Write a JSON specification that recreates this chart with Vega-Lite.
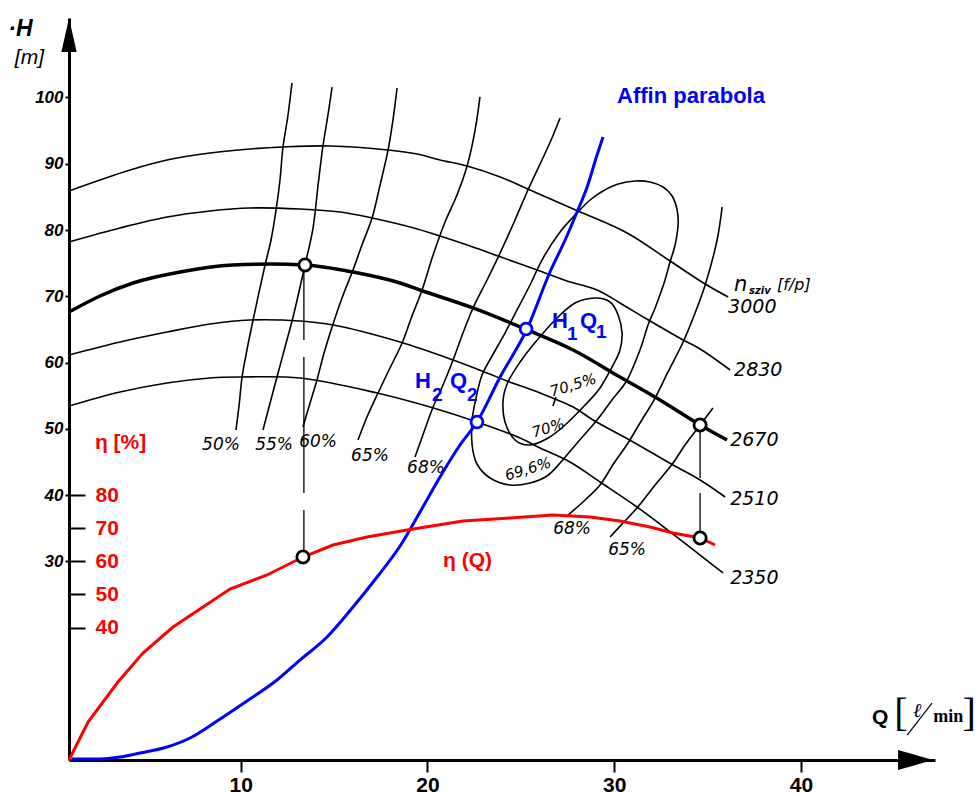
{
"$schema": "https://vega.github.io/schema/vega-lite/v6.json",
"width": 866, "height": 742,
"autosize": {"type": "none"},
"padding": {"left": 69, "top": 18, "right": 42, "bottom": 34},
"background": "white",
"config": {
 "view": {"stroke": null},
 "axis": {"grid": false, "labelFlush": false, "labelOverlap": false, "domainColor": "black", "tickColor": "black", "labelColor": "black"},
 "axisBottom": {"domainWidth": 3, "tickSize": 12, "tickWidth": 2, "labelFont": "Liberation Sans", "labelFontWeight": "bold", "labelFontSize": 21, "labelPadding": 2},
 "axisLeft": {"domainWidth": 3, "tickSize": 4, "tickWidth": 2, "labelFont": "Liberation Sans", "labelFontStyle": "italic", "labelFontWeight": "bold", "labelFontSize": 17, "labelPadding": 2}
},
"datasets": {
 "thin": [
  {"g":"i50","i":0,"Q":12.74,"H":102.19},{"g":"i50","i":1,"Q":12.53,"H":97.36},{"g":"i50","i":2,"Q":12.26,"H":92.53},{"g":"i50","i":3,"Q":12.10,"H":87.55},{"g":"i50","i":4,"Q":11.89,"H":83.02},{"g":"i50","i":5,"Q":11.62,"H":78.49},{"g":"i50","i":6,"Q":11.30,"H":74.72},{"g":"i50","i":7,"Q":10.98,"H":70.64},{"g":"i50","i":8,"Q":10.66,"H":66.42},{"g":"i50","i":9,"Q":10.33,"H":61.89},{"g":"i50","i":10,"Q":10.07,"H":57.81},{"g":"i50","i":11,"Q":9.91,"H":53.58},{"g":"i50","i":12,"Q":9.74,"H":49.81},
  {"g":"i55","i":0,"Q":14.89,"H":101.58},{"g":"i55","i":1,"Q":14.67,"H":97.36},{"g":"i55","i":2,"Q":14.40,"H":92.68},{"g":"i55","i":3,"Q":14.14,"H":86.79},{"g":"i55","i":4,"Q":13.87,"H":80.30},{"g":"i55","i":5,"Q":13.44,"H":74.72},{"g":"i55","i":6,"Q":12.80,"H":66.87},{"g":"i55","i":7,"Q":12.37,"H":62.34},{"g":"i55","i":8,"Q":11.94,"H":57.81},{"g":"i55","i":9,"Q":11.57,"H":53.89},{"g":"i55","i":10,"Q":11.19,"H":49.81},
  {"g":"i60","i":0,"Q":18.37,"H":101.43},{"g":"i60","i":1,"Q":18.15,"H":96.60},{"g":"i60","i":2,"Q":17.89,"H":92.08},{"g":"i60","i":3,"Q":17.46,"H":86.79},{"g":"i60","i":4,"Q":17.03,"H":81.81},{"g":"i60","i":5,"Q":16.49,"H":77.74},{"g":"i60","i":6,"Q":16.01,"H":73.96},{"g":"i60","i":7,"Q":15.42,"H":69.74},{"g":"i60","i":8,"Q":14.89,"H":65.36},{"g":"i60","i":9,"Q":14.46,"H":61.43},{"g":"i60","i":10,"Q":14.08,"H":57.36},{"g":"i60","i":11,"Q":13.71,"H":53.89},{"g":"i60","i":12,"Q":13.33,"H":50.26},
  {"g":"i65","i":0,"Q":22.81,"H":100.08},{"g":"i65","i":1,"Q":22.55,"H":95.09},{"g":"i65","i":2,"Q":22.12,"H":89.66},{"g":"i65","i":3,"Q":21.58,"H":85.28},{"g":"i65","i":4,"Q":20.94,"H":81.21},{"g":"i65","i":5,"Q":20.30,"H":76.23},{"g":"i65","i":6,"Q":19.71,"H":70.94},{"g":"i65","i":7,"Q":19.17,"H":67.02},{"g":"i65","i":8,"Q":18.64,"H":62.94},{"g":"i65","i":9,"Q":17.99,"H":59.17},{"g":"i65","i":10,"Q":17.35,"H":55.40},{"g":"i65","i":11,"Q":16.76,"H":51.77},{"g":"i65","i":12,"Q":16.28,"H":48.30},
  {"g":"i68","i":0,"Q":27.10,"H":96.91},{"g":"i68","i":1,"Q":26.62,"H":93.58},{"g":"i68","i":2,"Q":26.13,"H":90.57},{"g":"i68","i":3,"Q":25.38,"H":86.04},{"g":"i68","i":4,"Q":24.64,"H":81.21},{"g":"i68","i":5,"Q":23.89,"H":76.53},{"g":"i68","i":6,"Q":23.19,"H":72.45},{"g":"i68","i":7,"Q":22.44,"H":68.23},{"g":"i68","i":8,"Q":21.90,"H":64.45},{"g":"i68","i":9,"Q":21.37,"H":60.38},{"g":"i68","i":10,"Q":20.83,"H":56.60},{"g":"i68","i":11,"Q":20.30,"H":53.28},{"g":"i68","i":12,"Q":19.81,"H":49.51},{"g":"i68","i":13,"Q":19.33,"H":45.74},
  {"g":"i68r","i":0,"Q":35.78,"H":83.47},{"g":"i68r","i":1,"Q":35.51,"H":78.49},{"g":"i68r","i":2,"Q":34.87,"H":71.70},{"g":"i68r","i":3,"Q":34.33,"H":67.47},{"g":"i68r","i":4,"Q":33.69,"H":63.09},{"g":"i68r","i":5,"Q":32.88,"H":58.57},{"g":"i68r","i":6,"Q":32.19,"H":54.64},{"g":"i68r","i":7,"Q":31.38,"H":50.87},{"g":"i68r","i":8,"Q":30.74,"H":47.85},{"g":"i68r","i":9,"Q":29.99,"H":44.83},{"g":"i68r","i":10,"Q":29.24,"H":41.51},{"g":"i68r","i":11,"Q":28.44,"H":39.25},{"g":"i68r","i":12,"Q":27.53,"H":36.98},
  {"g":"i65r","i":0,"Q":35.29,"H":53.13},{"g":"i65r","i":1,"Q":34.60,"H":50.57},{"g":"i65r","i":2,"Q":33.79,"H":47.55},{"g":"i65r","i":3,"Q":33.15,"H":44.83},{"g":"i65r","i":4,"Q":32.19,"H":41.51},{"g":"i65r","i":5,"Q":31.22,"H":38.04},{"g":"i65r","i":6,"Q":30.47,"H":35.77},{"g":"i65r","i":7,"Q":29.78,"H":33.66},
  {"g":"s3000","i":0,"Q":0.80,"H":85.89},{"g":"s3000","i":1,"Q":2.46,"H":87.55},{"g":"s3000","i":2,"Q":4.07,"H":89.06},{"g":"s3000","i":3,"Q":6.05,"H":90.57},{"g":"s3000","i":4,"Q":8.35,"H":91.62},{"g":"s3000","i":5,"Q":10.49,"H":92.23},{"g":"s3000","i":6,"Q":12.26,"H":92.53},{"g":"s3000","i":7,"Q":14.78,"H":92.68},{"g":"s3000","i":8,"Q":17.89,"H":92.08},{"g":"s3000","i":9,"Q":19.44,"H":91.47},{"g":"s3000","i":10,"Q":20.67,"H":90.57},{"g":"s3000","i":11,"Q":22.12,"H":89.66},{"g":"s3000","i":12,"Q":23.89,"H":88.00},{"g":"s3000","i":13,"Q":25.49,"H":86.04},{"g":"s3000","i":14,"Q":28.06,"H":82.87},{"g":"s3000","i":15,"Q":30.69,"H":79.55},{"g":"s3000","i":16,"Q":32.99,"H":75.32},{"g":"s3000","i":17,"Q":34.87,"H":71.85},{"g":"s3000","i":18,"Q":36.10,"H":69.89},
  {"g":"s2830","i":0,"Q":0.80,"H":78.19},{"g":"s2830","i":1,"Q":3.53,"H":80.30},{"g":"s2830","i":2,"Q":6.05,"H":81.96},{"g":"s2830","i":3,"Q":8.35,"H":82.87},{"g":"s2830","i":4,"Q":10.49,"H":83.32},{"g":"s2830","i":5,"Q":13.17,"H":83.17},{"g":"s2830","i":6,"Q":15.32,"H":82.72},{"g":"s2830","i":7,"Q":17.03,"H":81.81},{"g":"s2830","i":8,"Q":19.07,"H":80.45},{"g":"s2830","i":9,"Q":20.67,"H":79.09},{"g":"s2830","i":10,"Q":22.28,"H":77.58},{"g":"s2830","i":11,"Q":23.78,"H":76.08},{"g":"s2830","i":12,"Q":25.87,"H":73.96},{"g":"s2830","i":13,"Q":27.47,"H":72.30},{"g":"s2830","i":14,"Q":29.08,"H":70.94},{"g":"s2830","i":15,"Q":30.31,"H":68.98},{"g":"s2830","i":16,"Q":31.65,"H":66.72},{"g":"s2830","i":17,"Q":33.69,"H":63.40},{"g":"s2830","i":18,"Q":34.60,"H":62.04},{"g":"s2830","i":19,"Q":36.21,"H":58.87},
  {"g":"s2510","i":0,"Q":0.80,"H":61.13},{"g":"s2510","i":1,"Q":3.53,"H":63.09},{"g":"s2510","i":2,"Q":6.05,"H":64.60},{"g":"s2510","i":3,"Q":8.35,"H":65.81},{"g":"s2510","i":4,"Q":10.49,"H":66.42},{"g":"s2510","i":5,"Q":13.17,"H":66.26},{"g":"s2510","i":6,"Q":14.94,"H":65.66},{"g":"s2510","i":7,"Q":18.53,"H":63.09},{"g":"s2510","i":8,"Q":21.37,"H":60.38},{"g":"s2510","i":9,"Q":23.19,"H":58.42},{"g":"s2510","i":10,"Q":24.26,"H":57.21},{"g":"s2510","i":11,"Q":26.03,"H":55.40},{"g":"s2510","i":12,"Q":27.80,"H":53.28},{"g":"s2510","i":13,"Q":28.87,"H":51.32},{"g":"s2510","i":14,"Q":31.01,"H":48.00},{"g":"s2510","i":15,"Q":33.15,"H":44.53},{"g":"s2510","i":16,"Q":34.60,"H":42.26},{"g":"s2510","i":17,"Q":35.94,"H":39.70},
  {"g":"s2350","i":0,"Q":0.80,"H":53.43},{"g":"s2350","i":1,"Q":3.53,"H":55.55},{"g":"s2350","i":2,"Q":6.05,"H":56.91},{"g":"s2350","i":3,"Q":8.35,"H":57.66},{"g":"s2350","i":4,"Q":9.96,"H":57.81},{"g":"s2350","i":5,"Q":13.17,"H":57.66},{"g":"s2350","i":6,"Q":17.30,"H":55.40},{"g":"s2350","i":7,"Q":20.14,"H":53.28},{"g":"s2350","i":8,"Q":22.65,"H":51.02},{"g":"s2350","i":9,"Q":24.96,"H":48.60},{"g":"s2350","i":10,"Q":26.03,"H":47.09},{"g":"s2350","i":11,"Q":27.63,"H":44.98},{"g":"s2350","i":12,"Q":29.24,"H":41.96},{"g":"s2350","i":13,"Q":31.22,"H":38.19},{"g":"s2350","i":14,"Q":33.15,"H":34.11},{"g":"s2350","i":15,"Q":35.83,"H":28.23},
  {"g":"t705","i":0,"Q":26.72,"H":53.43},{"g":"t705","i":1,"Q":26.88,"H":54.79}
 ],
 "loops": [
  {"g":"o","i":0,"Q":28.06,"H":82.72},{"g":"o","i":1,"Q":28.71,"H":84.53},{"g":"o","i":2,"Q":29.40,"H":85.89},{"g":"o","i":3,"Q":30.21,"H":86.94},{"g":"o","i":4,"Q":31.12,"H":87.40},{"g":"o","i":5,"Q":31.92,"H":87.25},{"g":"o","i":6,"Q":32.62,"H":86.49},{"g":"o","i":7,"Q":33.10,"H":85.13},{"g":"o","i":8,"Q":33.37,"H":83.02},{"g":"o","i":9,"Q":33.42,"H":80.75},{"g":"o","i":10,"Q":33.26,"H":77.74},{"g":"o","i":11,"Q":32.99,"H":75.17},{"g":"o","i":12,"Q":32.67,"H":72.00},{"g":"o","i":13,"Q":32.19,"H":68.23},{"g":"o","i":14,"Q":31.81,"H":65.66},{"g":"o","i":15,"Q":31.38,"H":61.89},{"g":"o","i":16,"Q":30.69,"H":57.36},{"g":"o","i":17,"Q":29.88,"H":54.34},{"g":"o","i":18,"Q":29.08,"H":51.32},{"g":"o","i":19,"Q":28.06,"H":48.00},{"g":"o","i":20,"Q":27.10,"H":44.83},{"g":"o","i":21,"Q":26.40,"H":42.87},{"g":"o","i":22,"Q":25.49,"H":41.81},{"g":"o","i":23,"Q":24.42,"H":41.51},{"g":"o","i":24,"Q":23.35,"H":42.57},{"g":"o","i":25,"Q":22.65,"H":44.68},{"g":"o","i":26,"Q":22.39,"H":47.55},{"g":"o","i":27,"Q":22.39,"H":51.32},{"g":"o","i":28,"Q":22.60,"H":54.64},{"g":"o","i":29,"Q":22.92,"H":58.11},{"g":"o","i":30,"Q":23.46,"H":60.98},{"g":"o","i":31,"Q":24.15,"H":64.45},{"g":"o","i":32,"Q":24.85,"H":68.23},{"g":"o","i":33,"Q":25.49,"H":71.70},{"g":"o","i":34,"Q":26.19,"H":75.77},{"g":"o","i":35,"Q":27.10,"H":79.70},
  {"g":"n","i":0,"Q":25.65,"H":62.64},{"g":"n","i":1,"Q":26.83,"H":66.42},{"g":"n","i":2,"Q":27.90,"H":68.98},{"g":"n","i":3,"Q":28.97,"H":69.74},{"g":"n","i":4,"Q":29.78,"H":69.13},{"g":"n","i":5,"Q":30.21,"H":67.17},{"g":"n","i":6,"Q":30.42,"H":64.45},{"g":"n","i":7,"Q":30.31,"H":61.89},{"g":"n","i":8,"Q":29.94,"H":59.62},{"g":"n","i":9,"Q":29.24,"H":56.15},{"g":"n","i":10,"Q":28.44,"H":53.58},{"g":"n","i":11,"Q":27.37,"H":50.57},{"g":"n","i":12,"Q":26.46,"H":48.60},{"g":"n","i":13,"Q":25.49,"H":47.55},{"g":"n","i":14,"Q":24.69,"H":48.30},{"g":"n","i":15,"Q":24.15,"H":51.02},{"g":"n","i":16,"Q":24.05,"H":54.34},{"g":"n","i":17,"Q":24.31,"H":57.06},{"g":"n","i":18,"Q":24.96,"H":60.08}
 ],
 "thick": [
  {"Q":0.80,"H":67.62},{"Q":2.46,"H":70.04},{"Q":4.23,"H":72.00},{"Q":6.75,"H":73.66},{"Q":9.58,"H":74.72},{"Q":11.57,"H":74.87},{"Q":13.44,"H":74.72},{"Q":16.01,"H":73.66},{"Q":18.53,"H":72.00},{"Q":19.60,"H":70.94},{"Q":22.44,"H":68.23},{"Q":25.22,"H":65.06},{"Q":27.80,"H":61.89},{"Q":30.31,"H":57.81},{"Q":32.45,"H":54.34},{"Q":34.60,"H":50.57},{"Q":36.04,"H":48.30}
 ],
 "blue": [
  {"Q":0.96,"H":0.15},{"Q":2.46,"H":0.15},{"Q":3.53,"H":0.45},{"Q":4.60,"H":1.06},{"Q":6.05,"H":1.96},{"Q":7.28,"H":3.32},{"Q":8.73,"H":5.89},{"Q":10.33,"H":8.91},{"Q":11.94,"H":12.08},{"Q":13.17,"H":15.09},{"Q":14.62,"H":18.57},{"Q":16.01,"H":23.09},{"Q":17.30,"H":27.62},{"Q":18.53,"H":32.30},{"Q":19.60,"H":37.43},{"Q":20.67,"H":42.72},{"Q":21.74,"H":47.55},{"Q":22.65,"H":51.02},{"Q":23.89,"H":57.81},{"Q":25.33,"H":65.06},{"Q":26.56,"H":73.66},{"Q":27.37,"H":78.49},{"Q":28.01,"H":82.72},{"Q":28.55,"H":86.49},{"Q":29.08,"H":91.32},{"Q":29.40,"H":94.04}
 ],
 "red": [
  {"Q":0.80,"eta":0},{"Q":1.82,"eta":11.47},{"Q":3.42,"eta":23.55},{"Q":4.76,"eta":32.30},{"Q":6.37,"eta":40.15},{"Q":9.42,"eta":51.62},{"Q":11.41,"eta":55.85},{"Q":13.33,"eta":61.28},{"Q":14.94,"eta":64.91},{"Q":16.76,"eta":67.32},{"Q":18.90,"eta":69.43},{"Q":21.90,"eta":72.15},{"Q":24.42,"eta":73.06},{"Q":26.72,"eta":73.96},{"Q":28.71,"eta":73.36},{"Q":30.31,"eta":72.15},{"Q":31.92,"eta":70.34},{"Q":33.15,"eta":68.53},{"Q":34.60,"eta":67.02},{"Q":35.40,"eta":64.91}
 ],
 "dashL": [{"i":0,"Q":13.38,"H":74.72},{"i":1,"Q":13.38,"H":30.64}],
 "dashR": [{"i":0,"Q":34.60,"H":50.57},{"i":1,"Q":34.60,"H":33.51}],
 "mkBlack": [{"Q":13.44,"H":74.72},{"Q":13.33,"H":30.64},{"Q":34.60,"H":50.57},{"Q":34.60,"H":33.51}],
 "mkBlue": [{"Q":22.65,"H":51.02},{"Q":25.28,"H":65.06}],
 "isoLbl": [{"t":"50%","Q":8.94,"H":47.55},{"t":"55%","Q":11.78,"H":47.55},{"t":"60%","Q":14.14,"H":48.0},{"t":"65%","Q":16.92,"H":45.89},{"t":"68%","Q":19.92,"H":44.08},{"t":"68%","Q":27.74,"H":34.87},{"t":"65%","Q":30.69,"H":31.70}],
 "contLbl": [{"t":"70,5%","Q":27.80,"H":56.60},{"t":"70%","Q":26.46,"H":50.11},{"t":"69,6%","Q":25.38,"H":43.92}],
 "speedLbl": [{"t":"3000","Q":36.10,"H":68.38},{"t":"2830","Q":36.42,"H":58.87},{"t":"2670","Q":36.21,"H":48.30},{"t":"2510","Q":36.21,"H":39.40},{"t":"2350","Q":36.21,"H":27.47}],
 "nLbl": [{"t":"n","Q":36.42,"H":71.70}],
 "szivLbl": [{"t":"sziv","Q":37.22,"H":70.79}],
 "fpLbl": [{"t":"[f/p]","Q":38.72,"H":71.70}],
 "blueLbl": [{"t":"Affin parabola","Q":30.15,"H":100.23},{"t":"H","Q":26.67,"H":66.26},{"t":"Q","Q":28.17,"H":66.26},{"t":"H","Q":19.33,"H":57.21},{"t":"Q","Q":21.21,"H":57.21}],
 "blueSub": [{"t":"1","Q":27.47,"H":64.30},{"t":"1","Q":29.03,"H":64.60},{"t":"2","Q":20.24,"H":55.09},{"t":"2","Q":22.12,"H":55.09}],
 "redLbl": [{"t":"η [%]","Q":2.19,"H":47.85},{"t":"η (Q)","Q":20.83,"H":30.04}],
 "hTitle": [{"t":"·H","Q":-2.45,"H":110.34}],
 "mTitle": [{"t":"[m]","Q":-2.10,"H":105.9}],
 "qTitle": [{"t":"Q","Q":43.81,"H":6.34}],
 "brkL": [{"t":"[","Q":45.0,"H":6.9}],
 "brkR": [{"t":"]","Q":49.36,"H":6.9}],
 "ell": [{"t":"ℓ","Q":46.0,"H":7.40}],
 "minT": [{"t":"min","Q":47.08,"H":6.49}],
 "slash": [{"Q":45.69,"H":3.77,"Q2":47.02,"H2":8.60}],
 "arrowUp": [{"Q":0.8,"H":109.43}],
 "arrowRight": [{"Q":46.14,"H":0}]
},
"layer": [
 {"layer": [
  {"data": {"name": "thin"}, "mark": {"type": "line", "stroke": "black", "strokeWidth": 1.6, "interpolate": "catmull-rom"},
   "encoding": {"x": {"field":"Q","type":"quantitative","scale":{"domain":[0.8,47.18],"nice":false,"zero":false},"axis":{"values":[10,20,30,40],"title":null}},
    "y": {"field":"H","type":"quantitative","scale":{"domain":[0,112],"nice":false,"zero":false},"axis":{"values":[30,40,50,60,70,80,90,100],"title":null}},
    "detail": {"field": "g"}, "order": {"field": "i", "type": "quantitative"}}},
  {"data": {"name": "loops"}, "mark": {"type": "line", "stroke": "black", "strokeWidth": 1.6, "interpolate": "cardinal-closed"},
   "encoding": {"x": {"field":"Q","type":"quantitative","scale":{"domain":[0.8,47.18],"nice":false,"zero":false},"axis":{"values":[10,20,30,40],"title":null}},
    "y": {"field":"H","type":"quantitative","scale":{"domain":[0,112],"nice":false,"zero":false},"axis":{"values":[30,40,50,60,70,80,90,100],"title":null}},
    "detail": {"field": "g"}, "order": {"field": "i", "type": "quantitative"}}},
  {"data": {"name": "thick"}, "mark": {"type": "line", "stroke": "black", "strokeWidth": 3.5, "interpolate": "monotone"},
   "encoding": {"x": {"field":"Q","type":"quantitative","scale":{"domain":[0.8,47.18],"nice":false,"zero":false},"axis":{"values":[10,20,30,40],"title":null}},
    "y": {"field":"H","type":"quantitative","scale":{"domain":[0,112],"nice":false,"zero":false},"axis":{"values":[30,40,50,60,70,80,90,100],"title":null}}}},
  {"data": {"name": "blue"}, "mark": {"type": "line", "stroke": "#0000ff", "strokeWidth": 3, "interpolate": "monotone"},
   "encoding": {"x": {"field":"Q","type":"quantitative","scale":{"domain":[0.8,47.18],"nice":false,"zero":false},"axis":{"values":[10,20,30,40],"title":null}},
    "y": {"field":"H","type":"quantitative","scale":{"domain":[0,112],"nice":false,"zero":false},"axis":{"values":[30,40,50,60,70,80,90,100],"title":null}}}},
  {"data": {"name": "dashL"}, "mark": {"type": "line", "stroke": "black", "strokeWidth": 1.3, "strokeDash": [75, 17, 136, 17, 60]},
   "encoding": {"x": {"field":"Q","type":"quantitative","scale":{"domain":[0.8,47.18],"nice":false,"zero":false},"axis":{"values":[10,20,30,40],"title":null}},
    "y": {"field":"H","type":"quantitative","scale":{"domain":[0,112],"nice":false,"zero":false},"axis":{"values":[30,40,50,60,70,80,90,100],"title":null}},
    "order": {"field": "i", "type": "quantitative"}}},
  {"data": {"name": "dashR"}, "mark": {"type": "line", "stroke": "black", "strokeWidth": 1.3, "strokeDash": [53, 15, 70]},
   "encoding": {"x": {"field":"Q","type":"quantitative","scale":{"domain":[0.8,47.18],"nice":false,"zero":false},"axis":{"values":[10,20,30,40],"title":null}},
    "y": {"field":"H","type":"quantitative","scale":{"domain":[0,112],"nice":false,"zero":false},"axis":{"values":[30,40,50,60,70,80,90,100],"title":null}},
    "order": {"field": "i", "type": "quantitative"}}},
  {"data": {"name": "isoLbl"}, "mark": {"type": "text", "font": "DejaVu Sans", "fontStyle": "italic", "fontSize": 17, "color": "black", "align": "center", "baseline": "middle"},
   "encoding": {"x": {"field":"Q","type":"quantitative","scale":{"domain":[0.8,47.18],"nice":false,"zero":false},"axis":{"values":[10,20,30,40],"title":null}},
    "y": {"field":"H","type":"quantitative","scale":{"domain":[0,112],"nice":false,"zero":false},"axis":{"values":[30,40,50,60,70,80,90,100],"title":null}},
    "text": {"field": "t"}}},
  {"data": {"name": "contLbl"}, "mark": {"type": "text", "font": "DejaVu Sans", "fontStyle": "italic", "fontSize": 15, "color": "black", "align": "center", "baseline": "middle", "angle": -17},
   "encoding": {"x": {"field":"Q","type":"quantitative","scale":{"domain":[0.8,47.18],"nice":false,"zero":false},"axis":{"values":[10,20,30,40],"title":null}},
    "y": {"field":"H","type":"quantitative","scale":{"domain":[0,112],"nice":false,"zero":false},"axis":{"values":[30,40,50,60,70,80,90,100],"title":null}},
    "text": {"field": "t"}}},
  {"data": {"name": "speedLbl"}, "mark": {"type": "text", "font": "DejaVu Sans", "fontStyle": "italic", "fontSize": 19, "color": "black", "align": "left", "baseline": "middle"},
   "encoding": {"x": {"field":"Q","type":"quantitative","scale":{"domain":[0.8,47.18],"nice":false,"zero":false},"axis":{"values":[10,20,30,40],"title":null}},
    "y": {"field":"H","type":"quantitative","scale":{"domain":[0,112],"nice":false,"zero":false},"axis":{"values":[30,40,50,60,70,80,90,100],"title":null}},
    "text": {"field": "t"}}},
  {"data": {"name": "nLbl"}, "mark": {"type": "text", "font": "DejaVu Sans", "fontStyle": "italic", "fontSize": 21, "color": "black", "align": "left", "baseline": "middle"},
   "encoding": {"x": {"field":"Q","type":"quantitative","scale":{"domain":[0.8,47.18],"nice":false,"zero":false},"axis":{"values":[10,20,30,40],"title":null}},
    "y": {"field":"H","type":"quantitative","scale":{"domain":[0,112],"nice":false,"zero":false},"axis":{"values":[30,40,50,60,70,80,90,100],"title":null}},
    "text": {"field": "t"}}},
  {"data": {"name": "szivLbl"}, "mark": {"type": "text", "font": "DejaVu Sans", "fontStyle": "italic", "fontWeight": "bold", "fontSize": 10, "color": "black", "align": "left", "baseline": "middle"},
   "encoding": {"x": {"field":"Q","type":"quantitative","scale":{"domain":[0.8,47.18],"nice":false,"zero":false},"axis":{"values":[10,20,30,40],"title":null}},
    "y": {"field":"H","type":"quantitative","scale":{"domain":[0,112],"nice":false,"zero":false},"axis":{"values":[30,40,50,60,70,80,90,100],"title":null}},
    "text": {"field": "t"}}},
  {"data": {"name": "fpLbl"}, "mark": {"type": "text", "font": "DejaVu Sans", "fontStyle": "italic", "fontSize": 16, "color": "black", "align": "left", "baseline": "middle"},
   "encoding": {"x": {"field":"Q","type":"quantitative","scale":{"domain":[0.8,47.18],"nice":false,"zero":false},"axis":{"values":[10,20,30,40],"title":null}},
    "y": {"field":"H","type":"quantitative","scale":{"domain":[0,112],"nice":false,"zero":false},"axis":{"values":[30,40,50,60,70,80,90,100],"title":null}},
    "text": {"field": "t"}}},
  {"data": {"name": "blueLbl"}, "mark": {"type": "text", "font": "Liberation Sans", "fontWeight": "bold", "fontSize": 22, "color": "#0000ff", "align": "left", "baseline": "middle"},
   "encoding": {"x": {"field":"Q","type":"quantitative","scale":{"domain":[0.8,47.18],"nice":false,"zero":false},"axis":{"values":[10,20,30,40],"title":null}},
    "y": {"field":"H","type":"quantitative","scale":{"domain":[0,112],"nice":false,"zero":false},"axis":{"values":[30,40,50,60,70,80,90,100],"title":null}},
    "text": {"field": "t"}}},
  {"data": {"name": "blueSub"}, "mark": {"type": "text", "font": "Liberation Sans", "fontWeight": "bold", "fontSize": 19, "color": "#0000ff", "align": "left", "baseline": "middle"},
   "encoding": {"x": {"field":"Q","type":"quantitative","scale":{"domain":[0.8,47.18],"nice":false,"zero":false},"axis":{"values":[10,20,30,40],"title":null}},
    "y": {"field":"H","type":"quantitative","scale":{"domain":[0,112],"nice":false,"zero":false},"axis":{"values":[30,40,50,60,70,80,90,100],"title":null}},
    "text": {"field": "t"}}},
  {"data": {"name": "redLbl"}, "mark": {"type": "text", "font": "Liberation Sans", "fontWeight": "bold", "fontSize": 21, "color": "#ff0000", "align": "left", "baseline": "middle"},
   "encoding": {"x": {"field":"Q","type":"quantitative","scale":{"domain":[0.8,47.18],"nice":false,"zero":false},"axis":{"values":[10,20,30,40],"title":null}},
    "y": {"field":"H","type":"quantitative","scale":{"domain":[0,112],"nice":false,"zero":false},"axis":{"values":[30,40,50,60,70,80,90,100],"title":null}},
    "text": {"field": "t"}}},
  {"data": {"name": "hTitle"}, "mark": {"type": "text", "font": "Liberation Sans", "fontStyle": "italic", "fontWeight": "bold", "fontSize": 23, "color": "black", "align": "left", "baseline": "middle"},
   "encoding": {"x": {"field":"Q","type":"quantitative","scale":{"domain":[0.8,47.18],"nice":false,"zero":false},"axis":{"values":[10,20,30,40],"title":null}},
    "y": {"field":"H","type":"quantitative","scale":{"domain":[0,112],"nice":false,"zero":false},"axis":{"values":[30,40,50,60,70,80,90,100],"title":null}},
    "text": {"field": "t"}}},
  {"data": {"name": "mTitle"}, "mark": {"type": "text", "font": "Liberation Sans", "fontStyle": "italic", "fontSize": 21, "color": "black", "align": "left", "baseline": "middle"},
   "encoding": {"x": {"field":"Q","type":"quantitative","scale":{"domain":[0.8,47.18],"nice":false,"zero":false},"axis":{"values":[10,20,30,40],"title":null}},
    "y": {"field":"H","type":"quantitative","scale":{"domain":[0,112],"nice":false,"zero":false},"axis":{"values":[30,40,50,60,70,80,90,100],"title":null}},
    "text": {"field": "t"}}},
  {"data": {"name": "qTitle"}, "mark": {"type": "text", "font": "Liberation Sans", "fontWeight": "bold", "fontSize": 21, "color": "black", "align": "left", "baseline": "middle"},
   "encoding": {"x": {"field":"Q","type":"quantitative","scale":{"domain":[0.8,47.18],"nice":false,"zero":false},"axis":{"values":[10,20,30,40],"title":null}},
    "y": {"field":"H","type":"quantitative","scale":{"domain":[0,112],"nice":false,"zero":false},"axis":{"values":[30,40,50,60,70,80,90,100],"title":null}},
    "text": {"field": "t"}}},
  {"data": {"name": "brkL"}, "mark": {"type": "text", "font": "Liberation Serif", "fontSize": 40, "color": "black", "align": "left", "baseline": "middle"},
   "encoding": {"x": {"field":"Q","type":"quantitative","scale":{"domain":[0.8,47.18],"nice":false,"zero":false},"axis":{"values":[10,20,30,40],"title":null}},
    "y": {"field":"H","type":"quantitative","scale":{"domain":[0,112],"nice":false,"zero":false},"axis":{"values":[30,40,50,60,70,80,90,100],"title":null}},
    "text": {"field": "t"}}},
  {"data": {"name": "brkR"}, "mark": {"type": "text", "font": "Liberation Serif", "fontSize": 40, "color": "black", "align": "right", "baseline": "middle"},
   "encoding": {"x": {"field":"Q","type":"quantitative","scale":{"domain":[0.8,47.18],"nice":false,"zero":false},"axis":{"values":[10,20,30,40],"title":null}},
    "y": {"field":"H","type":"quantitative","scale":{"domain":[0,112],"nice":false,"zero":false},"axis":{"values":[30,40,50,60,70,80,90,100],"title":null}},
    "text": {"field": "t"}}},
  {"data": {"name": "ell"}, "mark": {"type": "text", "font": "Liberation Serif, DejaVu Serif", "fontStyle": "italic", "fontSize": 20, "color": "black", "align": "left", "baseline": "middle"},
   "encoding": {"x": {"field":"Q","type":"quantitative","scale":{"domain":[0.8,47.18],"nice":false,"zero":false},"axis":{"values":[10,20,30,40],"title":null}},
    "y": {"field":"H","type":"quantitative","scale":{"domain":[0,112],"nice":false,"zero":false},"axis":{"values":[30,40,50,60,70,80,90,100],"title":null}},
    "text": {"field": "t"}}},
  {"data": {"name": "minT"}, "mark": {"type": "text", "font": "Liberation Serif", "fontWeight": "bold", "fontSize": 18, "color": "black", "align": "left", "baseline": "middle"},
   "encoding": {"x": {"field":"Q","type":"quantitative","scale":{"domain":[0.8,47.18],"nice":false,"zero":false},"axis":{"values":[10,20,30,40],"title":null}},
    "y": {"field":"H","type":"quantitative","scale":{"domain":[0,112],"nice":false,"zero":false},"axis":{"values":[30,40,50,60,70,80,90,100],"title":null}},
    "text": {"field": "t"}}},
  {"data": {"name": "slash"}, "mark": {"type": "rule", "stroke": "black", "strokeWidth": 1.2},
   "encoding": {"x": {"field":"Q","type":"quantitative","scale":{"domain":[0.8,47.18],"nice":false,"zero":false},"axis":{"values":[10,20,30,40],"title":null}},
    "y": {"field":"H","type":"quantitative","scale":{"domain":[0,112],"nice":false,"zero":false},"axis":{"values":[30,40,50,60,70,80,90,100],"title":null}},
    "x2": {"field": "Q2"}, "y2": {"field": "H2"}}},
  {"data": {"name": "arrowUp"}, "mark": {"type": "point", "shape": "M0,-1L0.45,1L-0.45,1Z", "size": 1156, "filled": true, "color": "black", "opacity": 1},
   "encoding": {"x": {"field":"Q","type":"quantitative","scale":{"domain":[0.8,47.18],"nice":false,"zero":false},"axis":{"values":[10,20,30,40],"title":null}},
    "y": {"field":"H","type":"quantitative","scale":{"domain":[0,112],"nice":false,"zero":false},"axis":{"values":[30,40,50,60,70,80,90,100],"title":null}}}},
  {"data": {"name": "arrowRight"}, "mark": {"type": "point", "shape": "M1,0L-1,-0.57L-1,0.57Z", "size": 1225, "filled": true, "color": "black", "opacity": 1},
   "encoding": {"x": {"field":"Q","type":"quantitative","scale":{"domain":[0.8,47.18],"nice":false,"zero":false},"axis":{"values":[10,20,30,40],"title":null}},
    "y": {"field":"H","type":"quantitative","scale":{"domain":[0,112],"nice":false,"zero":false},"axis":{"values":[30,40,50,60,70,80,90,100],"title":null}}}}
 ]},
 {"data": {"name": "red"}, "mark": {"type": "line", "stroke": "#ff0000", "strokeWidth": 3, "interpolate": "linear"},
  "encoding": {"x": {"field":"Q","type":"quantitative","scale":{"domain":[0.8,47.18],"nice":false,"zero":false},"axis":{"values":[10,20,30,40],"title":null}},
   "y": {"field":"eta","type":"quantitative","scale":{"domain":[0,224],"nice":false,"zero":false},
    "axis":{"orient":"right","offset":-866,"values":[40,50,60,70,80],"title":null,"domain":false,"grid":false,"tickSize":16,"tickWidth":2,"tickColor":"black","labelColor":"#ff0000","labelFont":"Liberation Sans","labelFontWeight":"bold","labelFontSize":21,"labelPadding":10,"labelAlign":"left","labelBaseline":"middle","labelFlush":false}}}},
 {"layer": [
  {"data": {"name": "mkBlack"}, "mark": {"type": "point", "shape": "circle", "size": 150, "filled": true, "fill": "white", "stroke": "black", "strokeWidth": 2.8, "opacity": 1},
   "encoding": {"x": {"field":"Q","type":"quantitative","scale":{"domain":[0.8,47.18],"nice":false,"zero":false},"axis":{"values":[10,20,30,40],"title":null}},
    "y": {"field":"H","type":"quantitative","scale":{"domain":[0,112],"nice":false,"zero":false},"axis":null}}},
  {"data": {"name": "mkBlue"}, "mark": {"type": "point", "shape": "circle", "size": 140, "filled": true, "fill": "white", "stroke": "#0000ff", "strokeWidth": 2.8, "opacity": 1},
   "encoding": {"x": {"field":"Q","type":"quantitative","scale":{"domain":[0.8,47.18],"nice":false,"zero":false},"axis":{"values":[10,20,30,40],"title":null}},
    "y": {"field":"H","type":"quantitative","scale":{"domain":[0,112],"nice":false,"zero":false},"axis":null}}}
 ]}
],
"resolve": {"scale": {"y": "independent"}, "axis": {"y": "independent"}}
}
